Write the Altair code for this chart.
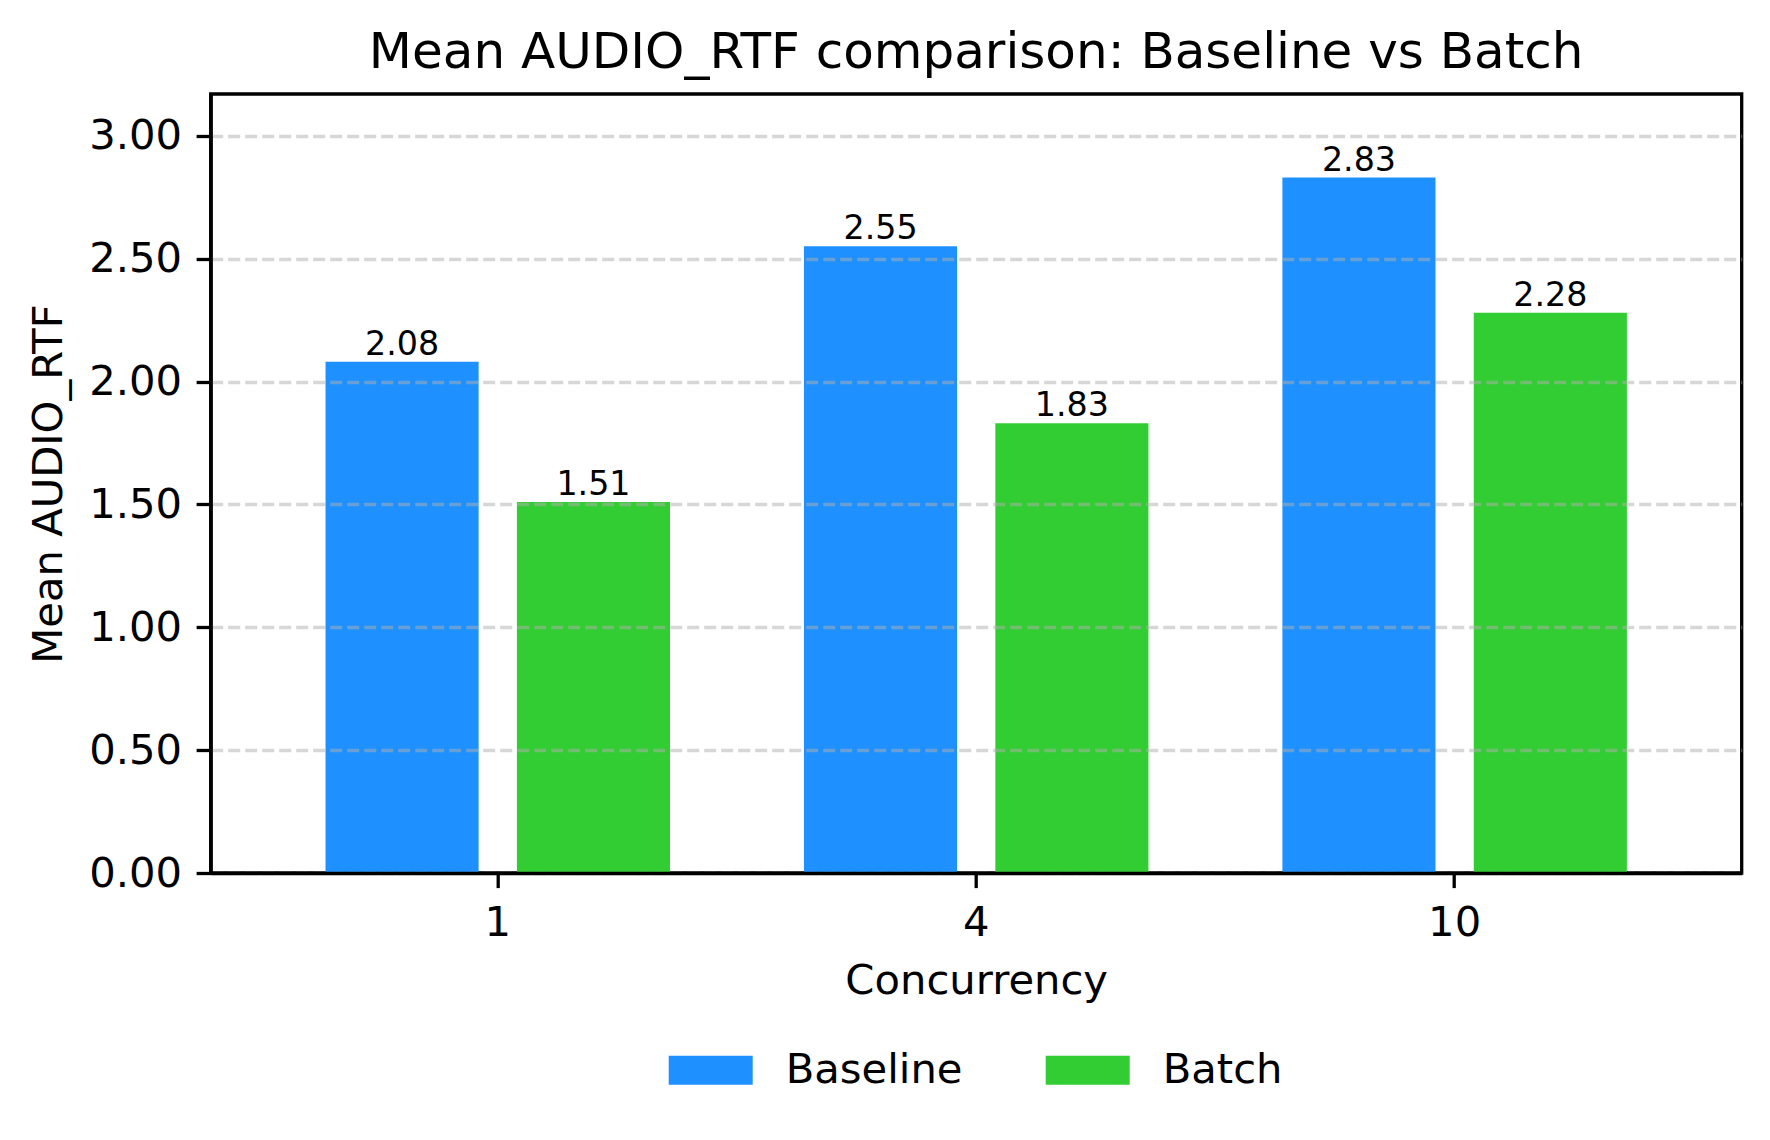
import altair as alt
import pandas as pd

# Mean AUDIO_RTF per concurrency level for the two runs
concurrency = ["1", "4", "10"]
series = ["Baseline", "Batch"]
baseline_rtf = [2.08, 2.55, 2.83]
batch_rtf = [1.51, 1.83, 2.28]
colors = ["#1E90FF", "#32CD32"]
y_ticks = [0.0, 0.5, 1.0, 1.5, 2.0, 2.5, 3.0]

rows = []
for c, b, t in zip(concurrency, baseline_rtf, batch_rtf):
    rows.append({"Concurrency": c, "Series": "Baseline", "RTF": b})
    rows.append({"Concurrency": c, "Series": "Batch", "RTF": t})
df = pd.DataFrame(rows)

FONT = "DejaVu Sans"
W, H = 1531, 779
LINE = 3.3
TICK = 14.6

x_enc = alt.X(
    "Concurrency:N",
    sort=concurrency,
    scale=alt.Scale(paddingInner=0.2, paddingOuter=0.2),
    axis=alt.Axis(
        title="Concurrency",
        labelAngle=0,
        labelFontSize=41.7,
        labelPadding=14.6,
        tickSize=TICK,
        tickWidth=LINE,
        tickColor="black",
        domainColor="black",
        domainWidth=LINE,
        titleFontSize=41.7,
        titleFontWeight="normal",
        titleX=W / 2,
        titleY=120,
        titleAlign="center",
        titleBaseline="alphabetic",
        grid=False,
        zindex=1,
    ),
)
xoff_enc = alt.XOffset(
    "Series:N", sort=series, scale=alt.Scale(paddingInner=0.2, paddingOuter=0.1)
)
y_enc = alt.Y(
    "RTF:Q",
    scale=alt.Scale(domain=[0, 3.17], nice=False, zero=True),
    axis=alt.Axis(
        title="Mean AUDIO_RTF",
        values=y_ticks,
        format=".2f",
        labelFontSize=41.7,
        labelPadding=14.6,
        tickSize=TICK,
        tickWidth=LINE,
        tickColor="black",
        domainColor="black",
        domainWidth=LINE,
        grid=True,
        gridColor="#b0b0b0",
        gridOpacity=0.5,
        gridWidth=LINE,
        gridDash=[12, 5],
        titleFontSize=41.7,
        titleFontWeight="normal",
        titleAngle=270,
        titleX=-149.7,
        titleY=H / 2,
        titleAlign="center",
        titleBaseline="alphabetic",
        zindex=1,
    ),
)

bars = alt.Chart(df).mark_bar().encode(
    x=x_enc,
    xOffset=xoff_enc,
    y=y_enc,
    color=alt.Color(
        "Series:N",
        sort=series,
        scale=alt.Scale(domain=series, range=colors),
        legend=alt.Legend(
            title=None,
            orient="none",
            legendX=458,
            legendY=934,
            direction="horizontal",
            columns=2,
            symbolType="M-1,-0.345L1,-0.345L1,0.345L-1,0.345Z",
            symbolSize=7056,
            symbolStrokeWidth=0,
            symbolOpacity=1,
            labelFontSize=41.7,
            labelOffset=33,
            labelLimit=600,
            columnPadding=83,
            padding=0,
        ),
    ),
)

labels = alt.Chart(df).mark_text(
    baseline="alphabetic", dy=-7, fontSize=33.3, font=FONT, color="black"
).encode(
    x=alt.X("Concurrency:N", sort=concurrency),
    xOffset=alt.XOffset("Series:N", sort=series),
    y=alt.Y("RTF:Q"),
    text=alt.Text("RTF:Q", format=".2f"),
)

chart = (
    alt.layer(bars, labels)
    .properties(
        width=W,
        height=H,
        title=alt.TitleParams(
            text="Mean AUDIO_RTF comparison: Baseline vs Batch",
            fontSize=50,
            font=FONT,
            fontWeight="normal",
            anchor="middle",
            baseline="alphabetic",
            offset=25.5,
            dy=49,
            color="black",
        ),
        padding={"left": 210.7, "top": 94, "right": 28.3, "bottom": 267},
        autosize=alt.AutoSizeParams(type="none"),
        background="white",
    )
    .configure_view(stroke="black", strokeWidth=LINE)
    .configure_axis(labelFont=FONT, titleFont=FONT, labelColor="black", titleColor="black")
    .configure_legend(labelFont=FONT, labelColor="black")
)

chart.save("out.html", embed_options={"renderer": "svg", "actions": False})
